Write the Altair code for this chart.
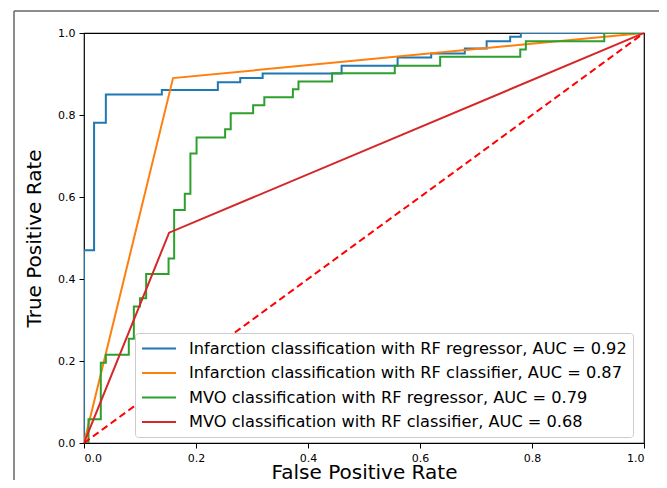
import altair as alt
import pandas as pd

labels = [
    "Infarction classification with RF regressor, AUC = 0.92",
    "Infarction classification with RF classifier, AUC = 0.87",
    "MVO classification with RF regressor, AUC = 0.79",
    "MVO classification with RF classifier, AUC = 0.68",
]
colors = ["#1f77b4", "#ff7f0e", "#2ca02c", "#d62728"]

inf_reg_fpr = [0, 0, 0.018, 0.018, 0.039, 0.039, 0.139, 0.139, 0.239, 0.239, 0.279, 0.279,
               0.319, 0.319, 0.46, 0.46, 0.56, 0.56, 0.62, 0.62, 0.68, 0.68, 0.719, 0.719,
               0.761, 0.761, 0.78, 0.78, 1.0]
inf_reg_tpr = [0, 0.47, 0.47, 0.781, 0.781, 0.85, 0.85, 0.861, 0.861, 0.88, 0.88, 0.89,
               0.89, 0.901, 0.901, 0.92, 0.92, 0.94, 0.94, 0.95, 0.95, 0.962, 0.962, 0.98,
               0.98, 0.991, 0.991, 1.0, 1.0]

inf_clf_fpr = [0, 0.159, 1.0]
inf_clf_tpr = [0, 0.89, 1.0]

mvo_reg_fpr = [0, 0.008, 0.008, 0.03, 0.03, 0.039, 0.039, 0.08, 0.08, 0.089, 0.089, 0.1, 0.1,
               0.111, 0.111, 0.151, 0.151, 0.161, 0.161, 0.18, 0.18, 0.19, 0.19, 0.201, 0.201,
               0.252, 0.252, 0.262, 0.262, 0.302, 0.302, 0.322, 0.322, 0.373, 0.373, 0.383,
               0.383, 0.443, 0.443, 0.555, 0.555, 0.636, 0.636, 0.779, 0.779, 0.789, 0.789,
               0.929, 0.929, 1.0]
mvo_reg_tpr = [0, 0, 0.058, 0.058, 0.196, 0.196, 0.215, 0.215, 0.254, 0.254, 0.333, 0.333,
               0.353, 0.353, 0.412, 0.412, 0.45, 0.45, 0.568, 0.568, 0.608, 0.608, 0.706,
               0.706, 0.745, 0.745, 0.765, 0.765, 0.804, 0.804, 0.824, 0.824, 0.843, 0.843,
               0.863, 0.863, 0.882, 0.882, 0.902, 0.902, 0.92, 0.92, 0.942, 0.942, 0.96,
               0.96, 0.98, 0.98, 1.0, 1.0]

mvo_clf_fpr = [0, 0.152, 1.0]
mvo_clf_tpr = [0, 0.513, 1.0]

chance_fpr = [0, 1]
chance_tpr = [0, 1]

series = [
    (labels[0], inf_reg_fpr, inf_reg_tpr),
    (labels[1], inf_clf_fpr, inf_clf_tpr),
    (labels[2], mvo_reg_fpr, mvo_reg_tpr),
    (labels[3], mvo_clf_fpr, mvo_clf_tpr),
]
rows = []
for k, (name, xs, ys) in enumerate(series):
    for i, (x, y) in enumerate(zip(xs, ys)):
        rows.append({"series": name, "fpr": x, "tpr": y, "idx": i, "k": k})
df = pd.DataFrame(rows)
chance = pd.DataFrame({"fpr": chance_fpr, "tpr": chance_tpr})

FONT = "DejaVu Sans"
ticks = [0.0, 0.2, 0.4, 0.6, 0.8, 1.0]

xenc = alt.X("fpr:Q", scale=alt.Scale(domain=[0, 1], nice=False),
             axis=alt.Axis(title="False Positive Rate", values=ticks, format=".1f",
                           labelPadding=4, titleBaseline="alphabetic", titleY=35))
yenc = alt.Y("tpr:Q", scale=alt.Scale(domain=[0, 1], nice=False),
             axis=alt.Axis(title="True Positive Rate", values=ticks, format=".1f",
                           labelPadding=4, titleBaseline="alphabetic", titleX=-44,
                           titleY=205))

lines = alt.Chart(df).mark_line(strokeWidth=2, clip=True).encode(
    x=xenc,
    y=yenc,
    color=alt.Color("series:N", sort=labels,
                    scale=alt.Scale(domain=labels, range=colors),
                    legend=alt.Legend(title=None, orient="none", legendX=51, legendY=300,
                                      symbolType="M-1,0L3,0", symbolSize=289,
                                      symbolStrokeWidth=2, labelFontSize=16.2,
                                      labelFont=FONT, labelColor="black",
                                      labelLimit=600, labelOffset=29, rowPadding=6.5,
                                      padding=6, fillColor="white",
                                      strokeColor="#cccccc", cornerRadius=3)),
    order="idx:Q",
    detail="k:N",
)

diag = alt.Chart(chance).mark_line(strokeWidth=2, color="#ff0000",
                                    strokeDash=[7, 4]).encode(x=xenc, y=yenc)

frame = alt.Chart(chance).mark_rect(fill=None, stroke="#666666", strokeWidth=1,
                                     clip=False).encode(
    x=alt.value(-70), x2=alt.value(700), y=alt.value(-22), y2=alt.value(700)
)

chart = alt.layer(frame, lines, diag).properties(
    width=560, height=410,
    background="white",
    autosize=alt.AutoSizeParams(type="none"),
    padding={"left": 76, "top": 25, "right": 15, "bottom": 37},
).configure_view(
    stroke="black", strokeWidth=1.2
).configure_axis(
    grid=False, domain=False, tickColor="black", tickSize=5, labelFontSize=11,
    labelFont=FONT, labelColor="black", titleFont=FONT, titleFontSize=20,
    titleFontWeight="normal", titleColor="black"
)

chart.save("out.html", embed_options={"renderer": "svg", "actions": False})
